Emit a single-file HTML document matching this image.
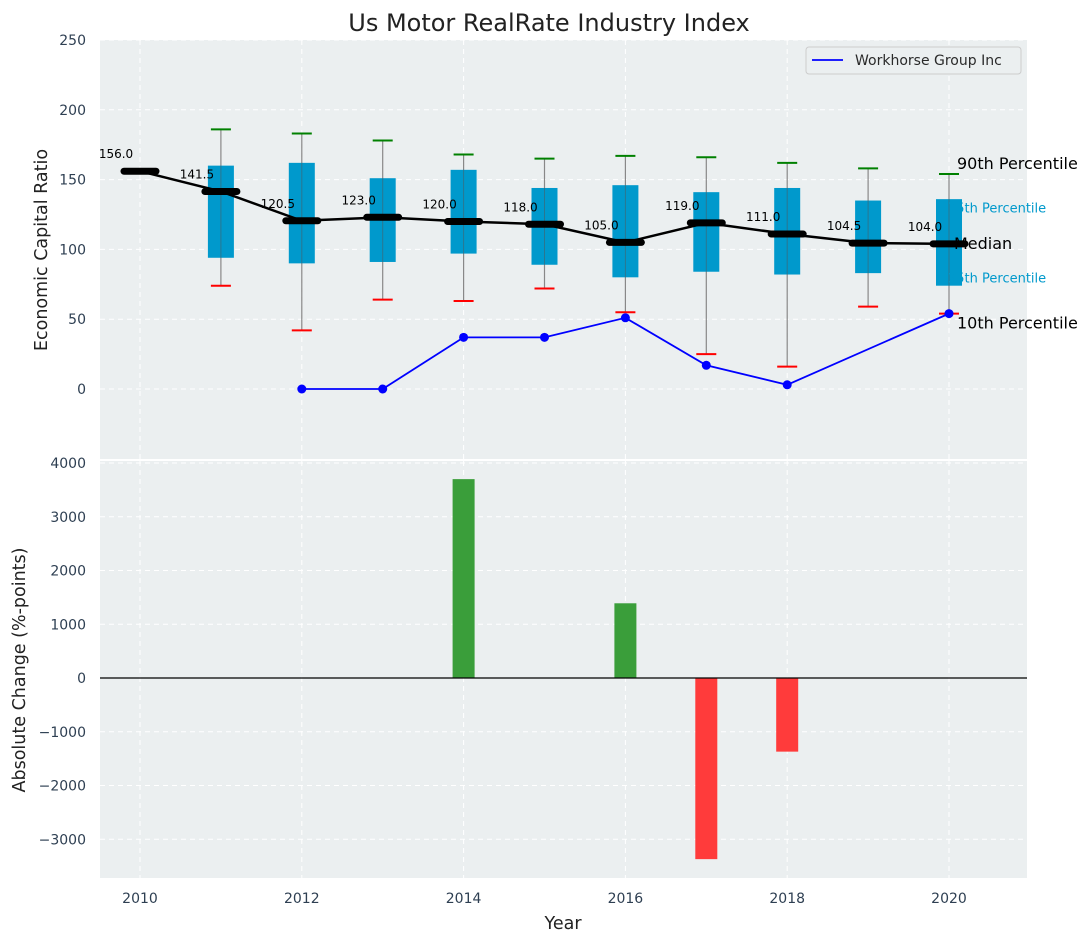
<!DOCTYPE html>
<html><head><meta charset="utf-8">
<style>
html,body{margin:0;padding:0;background:#fff;}
svg{display:block;font-family:"DejaVu Sans","Liberation Sans",sans-serif;}
</style></head>
<body>
<svg id="chart" width="1092" height="942" viewBox="0 0 1092 942"></svg>
<script>
const years = [2010,2011,2012,2013,2014,2015,2016,2017,2018,2019,2020];
const medians = [156,141.5,120.5,123,120,118,105,119,111,104.5,104];
const q25 = [null,94,90,91,97,89,80,84,82,83,74];
const q75 = [null,160,162,151,157,144,146,141,144,135,136];
const p10 = [null,74,42,64,63,72,55,25,16,59,54];
const p90 = [null,186,183,178,168,165,167,166,162,158,154];
const whYears = [2012,2013,2014,2015,2016,2017,2018,2020];
const whValues = [0,0,37,37,51,17,3,54];
const chgYears = [2014,2016,2017,2018];
const chgValues = [3700,1390,-3370,-1370];
const topTicks = [0,50,100,150,200,250];
const botTicks = [-3000,-2000,-1000,0,1000,2000,3000,4000];
const xTicks = [2010,2012,2014,2016,2018,2020];

const NS="http://www.w3.org/2000/svg";
const svg=document.getElementById('chart');
function el(tag,attrs,parent){const e=document.createElementNS(NS,tag);for(const k in attrs)e.setAttribute(k,attrs[k]);(parent||svg).appendChild(e);return e;}
function txt(s,attrs,parent){const e=el('text',attrs,parent);e.textContent=s;return e;}

const L=100,R=1027;
const x=y=>140+(y-2010)*80.9;
const yT=v=>389-v*1.396;
const yB=v=>678-v*0.05375;

let g=el('g',{});


el('rect',{x:L,y:40,width:R-L,height:419,fill:'#ebeff0'},g);
xTicks.forEach(t=>{el('line',{x1:x(t),x2:x(t),y1:40,y2:459,stroke:'#fff','stroke-dasharray':'5,4','stroke-width':1},g);});
topTicks.forEach(t=>{
  el('line',{x1:L,x2:R,y1:yT(t),y2:yT(t),stroke:'#fff','stroke-dasharray':'5,4','stroke-width':1},g);
  const tl=txt(String(t),{x:86,y:yT(t)+5,'text-anchor':'end','font-size':14,fill:'#2e3f52'},g);
  
  
});
years.forEach((yr,i)=>{
  if(q25[i]==null)return;
  const cx=x(yr);
  const w=el('line',{x1:cx,x2:cx,y1:yT(p90[i]),y2:yT(p10[i]),stroke:'#888','stroke-width':1.2},g);
  
  
  const b=el('rect',{x:cx-13,y:yT(q75[i]),width:26,height:yT(q25[i])-yT(q75[i]),fill:'#0099cc'},g);
  
  
  el('line',{x1:cx,x2:cx,y1:yT(q75[i]),y2:yT(q25[i]),stroke:'#555','stroke-width':1,opacity:0.5},g);
  const h=el('line',{x1:cx-10,x2:cx+10,y1:yT(p90[i]),y2:yT(p90[i]),stroke:'green','stroke-width':2},g);
  
  
  const lo=el('line',{x1:cx-10,x2:cx+10,y1:yT(p10[i]),y2:yT(p10[i]),stroke:'red','stroke-width':2},g);
  
  
});
const mp=el('polyline',{points:years.map((yr,i)=>x(yr)+','+yT(medians[i])).join(' '),fill:'none',stroke:'#000','stroke-width':2.5},g);


years.forEach((yr,i)=>{
  const m=el('line',{x1:x(yr)-16,x2:x(yr)+16,y1:yT(medians[i]),y2:yT(medians[i]),stroke:'#000','stroke-width':7,'stroke-linecap':'round'},g);
  
  
  const t=txt(medians[i].toFixed(1),{x:x(yr)-24,y:yT(medians[i])-13,'text-anchor':'middle','font-size':12,fill:'#000'},g);
  
  
});
const wl=el('polyline',{points:whYears.map((yr,i)=>x(yr)+','+yT(whValues[i])).join(' '),fill:'none',stroke:'blue','stroke-width':1.8},g);


whYears.forEach((yr,i)=>{
  const c=el('circle',{cx:x(yr),cy:yT(whValues[i]),r:4.5,fill:'blue'},g);
  
  
});
const last=years.length-1;
[['90th Percentile',p90[last]+7,957,16,'#000'],['75th Percentile',q75[last]-6,948,13,'#0099cc'],['Median',medians[last],954,16,'#000'],['25th Percentile',q25[last]+6,948,13,'#0099cc'],['10th Percentile',p10[last]-7,957,16,'#000']].forEach(a=>{
  const t=txt(a[0],{x:a[2],y:yT(a[1])+5,'font-size':a[3],fill:a[4]});
  
  
});
const lg=el('g',{});


el('rect',{x:806,y:47,width:215,height:27,rx:3,fill:'#ebeff0',stroke:'#ccc'},lg);
el('line',{x1:812,x2:843,y1:60,y2:60,stroke:'blue','stroke-width':1.8},lg);
txt('Workhorse Group Inc',{x:855,y:65,'font-size':14,fill:'#2a2a2a'},lg);
const yt=txt('Economic Capital Ratio',{x:47,y:250,'text-anchor':'middle','font-size':17.5,fill:'#222',transform:'rotate(-90 47 250)'});



const gb=el('g',{});


el('rect',{x:L,y:461,width:R-L,height:417,fill:'#ebeff0'},gb);
xTicks.forEach(t=>{el('line',{x1:x(t),x2:x(t),y1:461,y2:878,stroke:'#fff','stroke-dasharray':'5,4'},gb);
  const xl=txt(String(t),{x:x(t),y:903,'text-anchor':'middle','font-size':14,fill:'#2e3f52'},gb);
  
  
});
botTicks.forEach(t=>{el('line',{x1:L,x2:R,y1:yB(t),y2:yB(t),stroke:'#fff','stroke-dasharray':'5,4'},gb);
  const tl=txt(t<0?'\u2212'+Math.abs(t):String(t),{x:86,y:yB(t)+5,'text-anchor':'end','font-size':14,fill:'#2e3f52'},gb);
  
  
});
chgYears.forEach((yr,i)=>{
  const v=chgValues[i];
  const r=el('rect',{x:x(yr)-11,y:Math.min(yB(v),yB(0)),width:22,height:Math.abs(yB(v)-yB(0)),fill:v>=0?'#3a9e3a':'#ff3b3b'},gb);
  
  
});
el('line',{x1:L,x2:R,y1:yB(0),y2:yB(0),stroke:'#000','stroke-width':1.2},gb);
const yb=txt('Absolute Change (%-points)',{x:25,y:670,'text-anchor':'middle','font-size':17.5,fill:'#222',transform:'rotate(-90 25 670)'});


const xt=txt('Year',{x:563,y:929,'text-anchor':'middle','font-size':17.5,fill:'#222'});


const ti=txt('Us Motor RealRate Industry Index',{x:549,y:31,'text-anchor':'middle','font-size':24,fill:'#222'});


</script>
</body></html>
